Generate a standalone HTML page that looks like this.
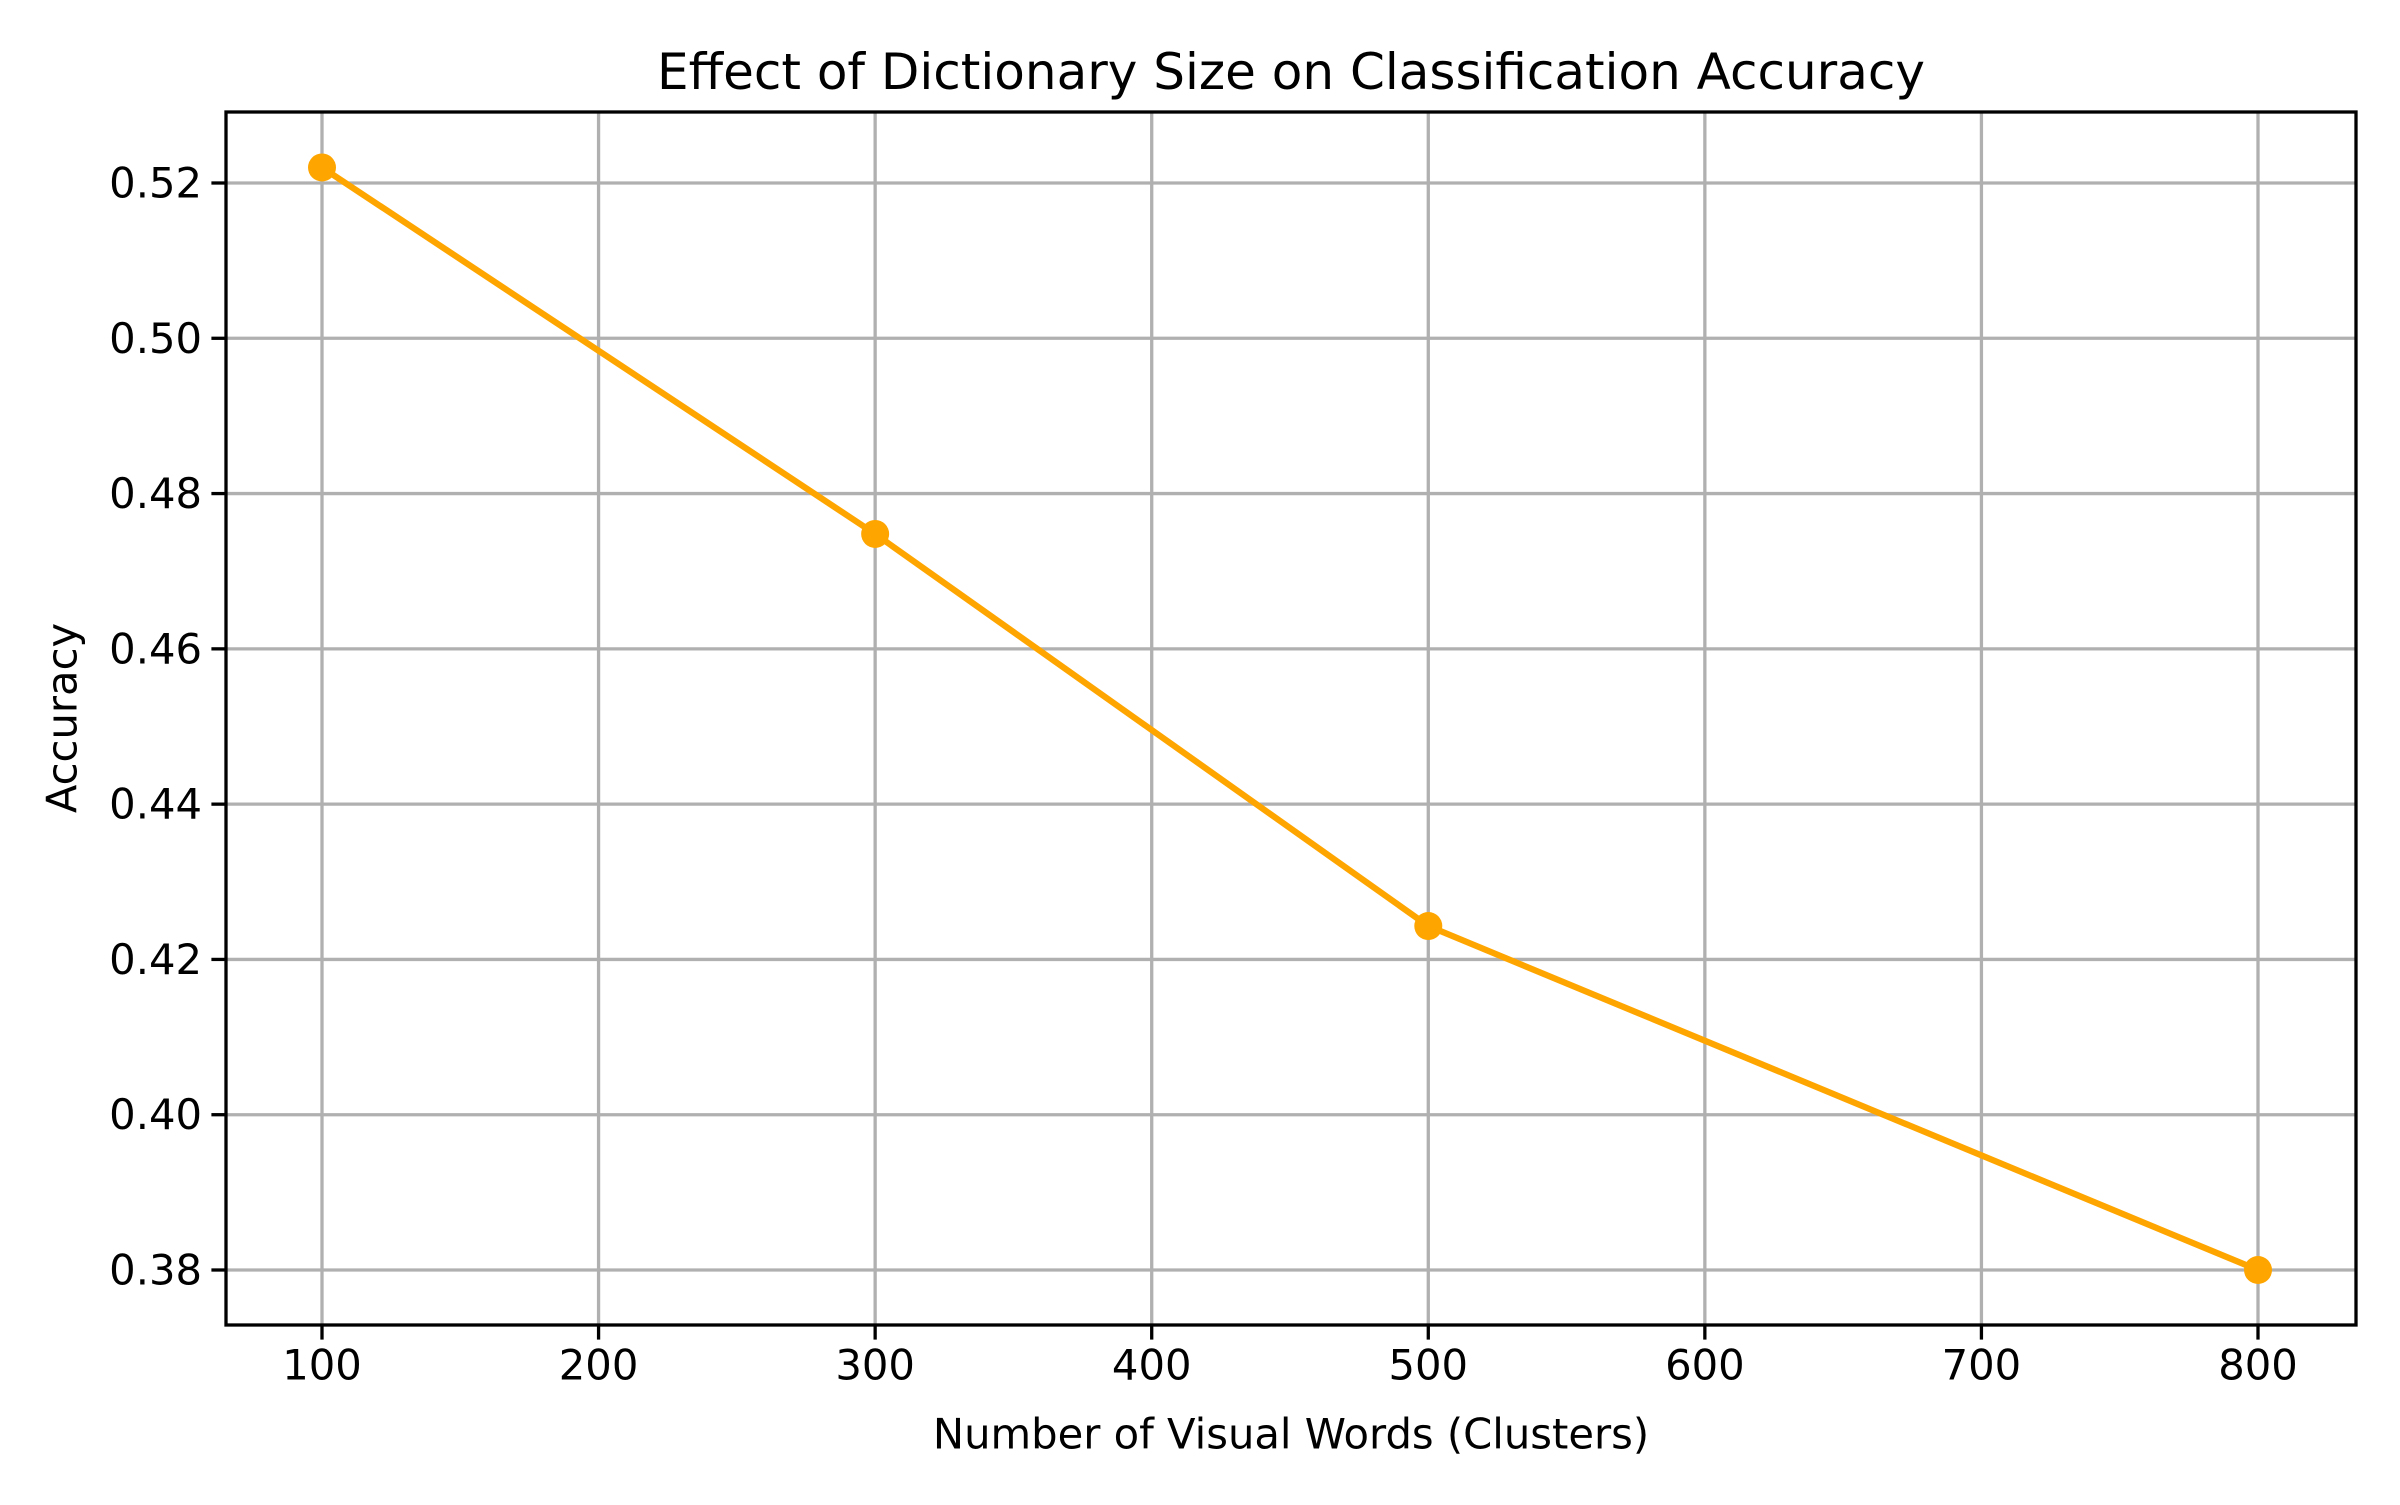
<!DOCTYPE html>
<html><head><meta charset="utf-8"><style>
html,body{margin:0;padding:0;background:#fff;}
text{font-family:"DejaVu Sans","Liberation Sans",sans-serif;fill:#000;}
</style></head><body>
<svg id="chart" width="2400" height="1500" viewBox="0 0 2400 1500" xmlns="http://www.w3.org/2000/svg">
<rect width="2400" height="1500" fill="#fff"/>
<g id="grid"></g><g id="series"></g><g id="axes"></g>
<text x="1291" y="72" font-size="50" text-anchor="middle" dominant-baseline="central">Effect of Dictionary Size on Classification Accuracy</text>
<text x="1291" y="1434" font-size="41.7" text-anchor="middle" dominant-baseline="central">Number of Visual Words (Clusters)</text>
<text x="62" y="718" font-size="41.7" text-anchor="middle" dominant-baseline="central" transform="rotate(-90 62 718)">Accuracy</text>
</svg>
<script>
const categories = [100, 300, 500, 800];
const accuracy = [0.522, 0.4748, 0.4243, 0.3800];
const xTicks = [100, 200, 300, 400, 500, 600, 700, 800];
const yTicks = [0.38, 0.40, 0.42, 0.44, 0.46, 0.48, 0.50, 0.52];

const L=226, R=2356, T=112, B=1325;
function xs(v){return 322 + (v-100)*(2258-322)/700;}
function ys(v){return 1270 - (v-0.38)*(1270-183)/0.14;}
const NS="http://www.w3.org/2000/svg";
function mk(tag, attrs, parent){const e=document.createElementNS(NS,tag);for(const k in attrs)e.setAttribute(k,attrs[k]);parent.appendChild(e);return e;}
const grid=document.getElementById('grid'), axes=document.getElementById('axes'), series=document.getElementById('series');
xTicks.forEach(v=>{
  const x=xs(v);
  const g=mk('line',{x1:x,x2:x,y1:T,y2:B,stroke:'#b0b0b0','stroke-width':3.3},grid);
  
  
  const t=mk('line',{x1:x,x2:x,y1:B,y2:B+14.6,stroke:'#000','stroke-width':3.3},axes);
  
  
  const l=mk('text',{x:x,y:B+40,'font-size':41.7,'text-anchor':'middle','dominant-baseline':'central'},axes);
  l.textContent=String(v);
  
  
});
yTicks.forEach(v=>{
  const y=ys(v);
  const g=mk('line',{x1:L,x2:R,y1:y,y2:y,stroke:'#b0b0b0','stroke-width':3.3},grid);
  
  
  const t=mk('line',{x1:L-14.6,x2:L,y1:y,y2:y,stroke:'#000','stroke-width':3.3},axes);
  
  
  const l=mk('text',{x:L-24,y:y,'font-size':41.7,'text-anchor':'end','dominant-baseline':'central'},axes);
  l.textContent=v.toFixed(2);
  
  
});
const frame=mk('rect',{x:L,y:T,width:R-L,height:B-T,fill:'none',stroke:'#000','stroke-width':3.3},axes);


const pts=categories.map((c,i)=>xs(c)+','+ys(accuracy[i])).join(' ');
const line=mk('polyline',{points:pts,fill:'none',stroke:'#ffa500','stroke-width':6.25,'stroke-linejoin':'round','stroke-linecap':'square'},series);


categories.forEach((c,i)=>{
  const p=mk('circle',{cx:xs(c),cy:ys(accuracy[i]),r:14,fill:'#ffa500'},series);
  
  
});
</script>
</body></html>
